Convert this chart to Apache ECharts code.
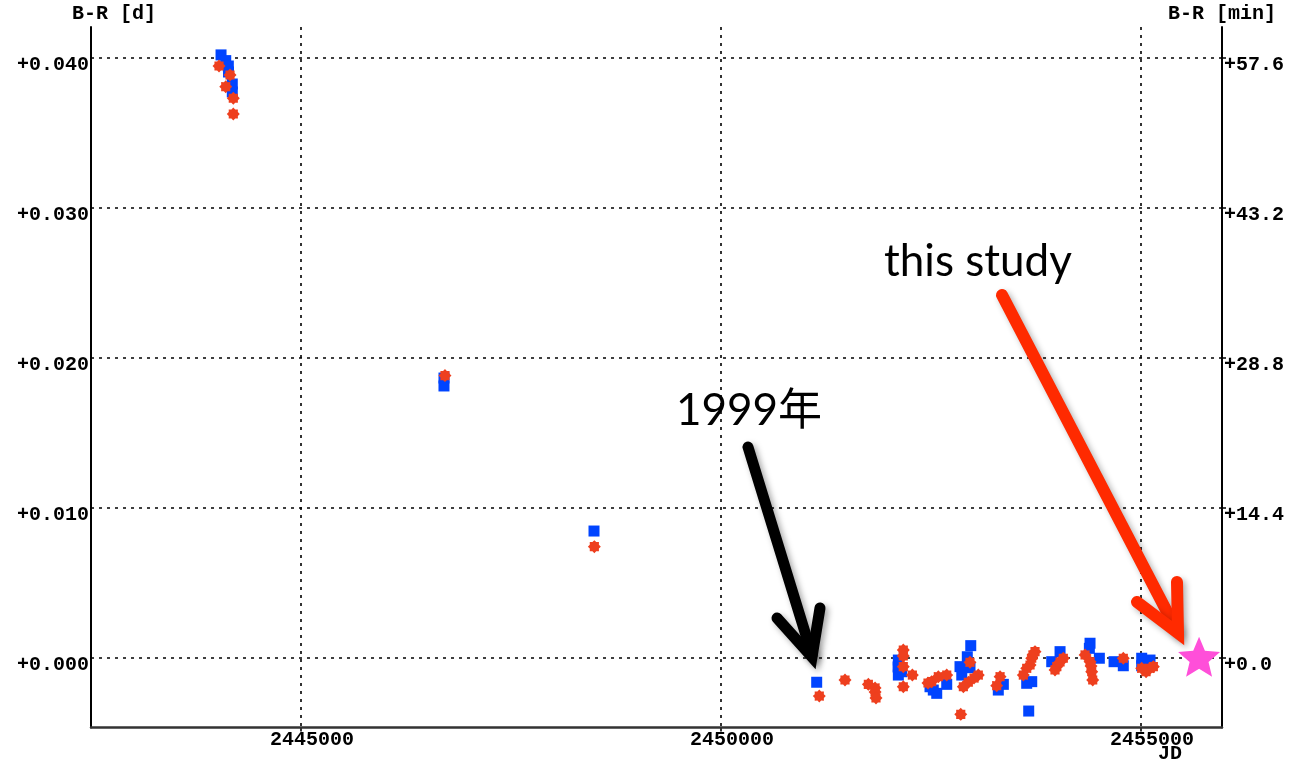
<!DOCTYPE html>
<html>
<head>
<meta charset="utf-8">
<script src="https://cdn.jsdelivr.net/npm/echarts@6/dist/echarts.min.js"></script>
<style>
  html, body { margin: 0; padding: 0; background: #fff; }
  #chart { width: 1290px; height: 761px; }
</style>
</head>
<body>
<div id="chart"></div>
<script>
// O-C (B-R) residuals against Julian Date
const blueJD = [
  2444048, 2444104, 2444135, 2444137, 2444182, 2444182,
  2446702, 2446702, 2448488,
  2451139,
  2452111, 2452108, 2452151, 2452111,
  2452527, 2452568, 2452687, 2452488,
  2452973, 2452932, 2452845, 2452964, 2452866,
  2453301, 2453361,
  2453699, 2453639, 2453663,
  2453937, 2454036,
  2454393, 2454385, 2454504,
  2454679, 2454789,
  2455008, 2455107, 2455008
];
const blueBR = [
  0.04017, 0.03979, 0.03943, 0.03903, 0.03823, 0.03770,
  0.01863, 0.01810, 0.00843,
  -0.00165,
  -0.00017, -0.00063, -0.00095, -0.00117,
  -0.00217, -0.00239, -0.00179, -0.00195,
  0.00079, 0.00005, -0.00061, -0.00068, -0.00117,
  -0.00217, -0.00179,
  -0.00161, -0.00172, -0.00357,
  -0.00028, 0.00039,
  0.00095, 0.00061, -0.00005,
  -0.00028, -0.00055,
  -0.00005, -0.00017, -0.00055
];
const redJD = [
  2444024, 2444155, 2444104, 2444194, 2444194,
  2446714, 2448492,
  2451170, 2451476, 2451754, 2451834, 2451834, 2451845,
  2452170, 2452170, 2452170, 2452278, 2452170,
  2452508, 2452587, 2452687, 2452464,
  2452854,
  2452964, 2453063, 2452944, 2452885, 2453012,
  2453322, 2453282,
  2453738, 2453699, 2453679, 2453639, 2453599, 2453714,
  2453997, 2454075, 2453976, 2454036,
  2454334, 2454393, 2454413, 2454425, 2454405,
  2454789,
  2455060, 2455107, 2455147, 2455008
];
const redBR = [
  0.03943, 0.03883, 0.03805, 0.03728, 0.03623,
  0.01879, 0.00739,
  -0.00257, -0.00150, -0.00179, -0.00203, -0.00230, -0.00270,
  0.00050, 0.00010, -0.00061, -0.00117, -0.00195,
  -0.00161, -0.00128, -0.00117, -0.00170,
  -0.00379,
  -0.00032, -0.00117, -0.00165, -0.00195, -0.00137,
  -0.00128, -0.00188,
  0.00039, -0.00005, -0.00050, -0.00072, -0.00117, 0.00017,
  -0.00061, -0.00005, -0.00083, -0.00030,
  0.00017, -0.00028, -0.00095, -0.00150, -0.00057,
  -0.00005,
  -0.00095, -0.00072, -0.00061, -0.00072
];
const studyJD = [2455691];
const studyBR = [0.00005];

const xTicks = [2445000, 2450000, 2455000];
const dayTicks = [0, 0.01, 0.02, 0.03, 0.04];
const minTicks = [0, 14.4, 28.8, 43.2, 57.6];

const MIN_PER_DAY = 1440;
const xMin = 2442500, xMax = 2455964;
const yMin = -0.004667, yMax = 0.04203;

function pairs(xs, ys) { return xs.map((x, i) => [x, ys[i]]); }

// eight-point burst marker
function burstPath() {
  let d = '';
  for (let i = 0; i < 16; i++) {
    const r = i % 2 ? 0.76 : 1;
    const a = i * Math.PI / 8 - Math.PI / 2;
    d += (i ? 'L' : 'M') + (r * Math.cos(a)).toFixed(3) + ' ' + (r * Math.sin(a)).toFixed(3) + ' ';
  }
  return 'path://' + d + 'Z';
}
// five-point star marker
function starPath() {
  let d = '';
  for (let i = 0; i < 10; i++) {
    const r = i % 2 ? 0.45 : 1;
    const a = i * Math.PI / 5 - Math.PI / 2;
    d += (i ? 'L' : 'M') + (r * Math.cos(a)).toFixed(3) + ' ' + (r * Math.sin(a)).toFixed(3) + ' ';
  }
  return 'path://' + d + 'Z';
}

const monoFont = { fontFamily: 'Liberation Mono', fontWeight: 'bold', fontSize: 20, color: '#000' };
const gridDots = { color: '#000', width: 1.6, type: [3, 5] };

const chart = echarts.init(document.getElementById('chart'), null, { renderer: 'canvas' });
chart.setOption({
  animation: false,
  backgroundColor: '#fff',
  grid: { left: 91, right: 68, top: 27, bottom: 33.5, containLabel: false, outerBoundsMode: 'none' },
  xAxis: {
    type: 'value', min: xMin, max: xMax,
    axisLine: { show: true, onZero: false, lineStyle: { color: '#333', width: 2.5 } },
    axisTick: { show: true, inside: false, length: 4, customValues: xTicks, lineStyle: { color: '#333', width: 2 } },
    axisLabel: Object.assign({}, monoFont, { customValues: xTicks, margin: 2, padding: [0, 0, 0, 22],
      formatter: v => String(v) }),
    splitLine: { show: true, lineStyle: gridDots }
  },
  yAxis: [
    {
      type: 'value', min: yMin, max: yMax, position: 'left',
      name: 'B-R [d]', nameLocation: 'end', nameGap: 3,
      nameTextStyle: Object.assign({}, monoFont, { align: 'center', verticalAlign: 'bottom', padding: [0, 0, 0, 46] }),
      axisLine: { show: true, onZero: false, lineStyle: { color: '#000', width: 2 } },
      axisTick: { show: false, customValues: dayTicks },
      axisLabel: Object.assign({}, monoFont, { customValues: dayTicks, margin: 2,
        verticalAlign: 'top', lineHeight: 15,
        formatter: v => '+' + v.toFixed(3) }),
      splitLine: { show: true, lineStyle: gridDots }
    },
    {
      type: 'value', min: yMin * MIN_PER_DAY, max: yMax * MIN_PER_DAY, position: 'right',
      name: 'B-R [min]', nameLocation: 'end', nameGap: 3,
      nameTextStyle: Object.assign({}, monoFont, { align: 'center', verticalAlign: 'bottom' }),
      axisLine: { show: true, onZero: false, lineStyle: { color: '#000', width: 2 } },
      axisTick: { show: true, inside: false, length: 4, customValues: minTicks, lineStyle: { color: '#000', width: 1.5 } },
      axisLabel: Object.assign({}, monoFont, { customValues: minTicks, margin: 2,
        verticalAlign: 'top', lineHeight: 15,
        formatter: v => '+' + v.toFixed(1) }),
      splitLine: { show: false }
    }
  ],
  series: [
    {
      name: 'blue', type: 'scatter', yAxisIndex: 0,
      symbol: 'rect', symbolSize: 11,
      itemStyle: { color: '#0044ff', opacity: 1 },
      data: pairs(blueJD, blueBR), z: 3
    },
    {
      name: 'red', type: 'scatter', yAxisIndex: 0,
      symbol: burstPath(), symbolSize: 13,
      itemStyle: { color: '#ee3f1e', opacity: 1 },
      data: pairs(redJD, redBR), z: 4
    },
    {
      name: 'this study', type: 'scatter', yAxisIndex: 0,
      symbol: starPath(), symbolSize: [42, 40],
      itemStyle: { color: '#ff4fd9', opacity: 1 },
      data: pairs(studyJD, studyBR), z: 5
    }
  ],
  graphic: [
    {
      type: 'text', z: 10,
      style: { text: 'JD', x: 1170, y: 754, align: 'center', verticalAlign: 'middle',
        font: 'bold 20px "Liberation Mono"', fill: '#000' }
    },
    {
      type: 'text', z: 10,
      style: { text: '1999年', x: 676, y: 411, verticalAlign: 'middle',
        font: '44px Lato, "Noto Sans CJK JP", sans-serif', fill: '#000' }
    },
    {
      type: 'text', z: 10,
      style: { text: 'this study', x: 884, y: 262, verticalAlign: 'middle',
        font: '44px Lato, "Noto Sans", sans-serif', fill: '#000' }
    },
    {
      type: 'polyline', z: 10,
      shape: { points: [[748, 447], [812, 655]] },
      style: { stroke: '#000', lineWidth: 11, lineCap: 'round', fill: null,
        shadowBlur: 6, shadowColor: 'rgba(0,0,0,0.35)', shadowOffsetX: 3, shadowOffsetY: 3 }
    },
    {
      type: 'polyline', z: 10,
      shape: { points: [[777, 618], [812, 657], [820, 608]] },
      style: { stroke: '#000', lineWidth: 11, lineCap: 'round', lineJoin: 'miter', fill: null,
        shadowBlur: 6, shadowColor: 'rgba(0,0,0,0.35)', shadowOffsetX: 3, shadowOffsetY: 3 }
    },
    {
      type: 'polyline', z: 10,
      shape: { points: [[1002, 295], [1177, 631]] },
      style: { stroke: '#ff2a00', lineWidth: 12, lineCap: 'round', fill: null,
        shadowBlur: 6, shadowColor: 'rgba(0,0,0,0.3)', shadowOffsetX: 3, shadowOffsetY: 3 }
    },
    {
      type: 'polyline', z: 10,
      shape: { points: [[1137, 602], [1178, 633], [1177, 582]] },
      style: { stroke: '#ff2a00', lineWidth: 12, lineCap: 'round', lineJoin: 'miter', fill: null,
        shadowBlur: 6, shadowColor: 'rgba(0,0,0,0.3)', shadowOffsetX: 3, shadowOffsetY: 3 }
    }
  ]
});
</script>
</body>
</html>
